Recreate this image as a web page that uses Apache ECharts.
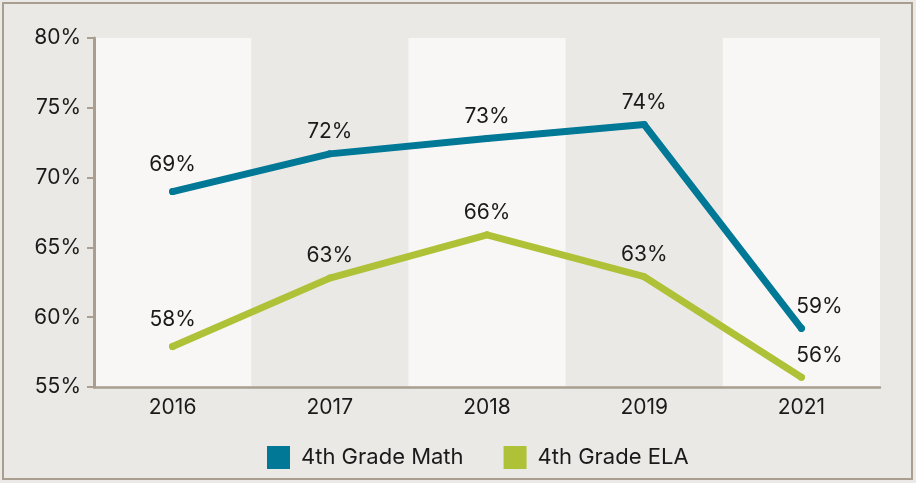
<!DOCTYPE html>
<html>
<head>
<meta charset="utf-8">
<script src="https://cdn.jsdelivr.net/npm/echarts@6/dist/echarts.min.js"></script>
<style>
  html, body { margin: 0; padding: 0; background: #ebe9e6; }
  #chart { width: 916px; height: 483px; }
</style>
</head>
<body>
<div id="chart"></div>
<script>
// data
const years = ['2016', '2017', '2018', '2019', '2021']
const mathScores = [69.0, 71.7, 72.8, 73.8, 59.2]
const elaScores = [57.9, 62.8, 65.9, 62.9, 55.7]
const yTicks = { min: 55, max: 80, step: 5 }

const chart = echarts.init(document.getElementById('chart'))
const font = 'Inter, "Noto Sans", sans-serif'

// build data items; the last point gets its label pushed to the right
function makeData (values) {
  return values.map((v, i) => {
    const item = { value: v }
    if (i === 0) item.label = { offset: [0, -5] }
    if (i === values.length - 1) item.label = { offset: [18, 0] }
    return item
  })
}

function lineSeries (name, color, values) {
  return {
    name: name,
    type: 'line',
    data: makeData(values),
    symbol: 'circle',
    symbolSize: 7,
    itemStyle: { color: color },
    lineStyle: { color: color, width: 7, cap: 'round', join: 'round' },
    emphasis: { disabled: true },
    label: {
      show: true,
      position: 'top',
      distance: 8,
      color: '#1a1a1a',
      fontFamily: font,
      fontSize: 21,
      formatter: p => Math.round(p.value) + '%'
    }
  }
}

const option = {
  backgroundColor: '#ebe9e6',
  animation: false,
  graphic: [{
    type: 'rect',
    shape: { x: 3, y: 3, width: 909, height: 476 },
    style: { fill: 'none', stroke: '#a99e90', lineWidth: 2 },
    z: 100
  }],
  grid: { left: 94, right: 36, top: 38, bottom: 96 },
  legend: {
    left: 262,
    top: 441,
    icon: 'rect',
    itemWidth: 23,
    itemHeight: 23,
    itemGap: 40,
    textStyle: {
      color: '#1a1a1a',
      fontFamily: font,
      fontSize: 22,
      padding: [0, 0, 0, 6]
    },
    data: ['4th Grade Math', '4th Grade ELA']
  },
  xAxis: {
    type: 'category',
    data: years,
    boundaryGap: true,
    axisLine: { lineStyle: { color: '#a99e90', width: 2.5 } },
    axisTick: { show: false },
    axisLabel: { color: '#1a1a1a', fontFamily: font, fontSize: 21, margin: 10 },
    splitLine: { show: false },
    splitArea: {
      show: true,
      areaStyle: { color: ['#f8f7f5', 'rgba(0,0,0,0)'] }
    }
  },
  yAxis: {
    type: 'value',
    min: yTicks.min,
    max: yTicks.max,
    interval: yTicks.step,
    axisLine: { show: true, lineStyle: { color: '#a99e90', width: 3 } },
    axisTick: { show: true, length: 7, lineStyle: { color: '#a99e90', width: 2 } },
    axisLabel: {
      color: '#1a1a1a',
      fontFamily: font,
      fontSize: 21,
      margin: 13,
      formatter: '{value}%'
    },
    splitLine: { show: false }
  },
  series: [
    lineSeries('4th Grade Math', '#007896', mathScores),
    lineSeries('4th Grade ELA', '#aec137', elaScores)
  ]
}

chart.setOption(option)
</script>
</body>
</html>
